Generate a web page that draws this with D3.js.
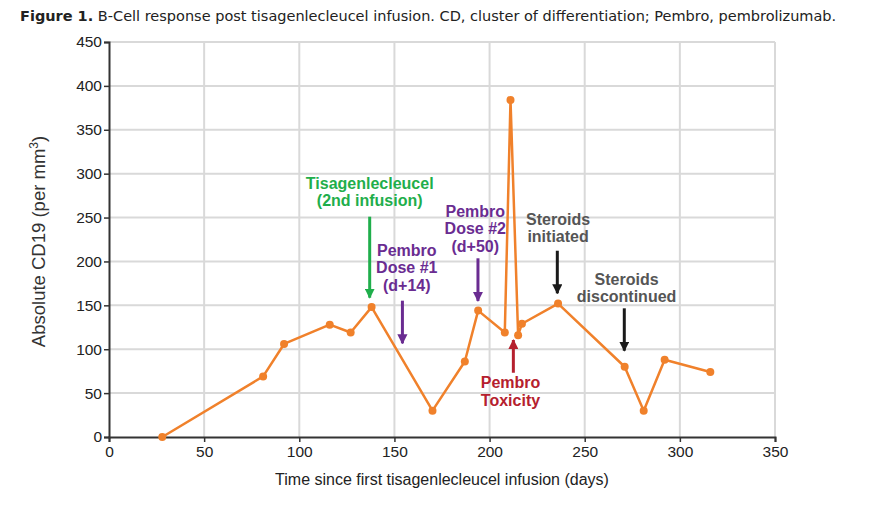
<!DOCTYPE html>
<html>
<head>
<meta charset="utf-8">
<script src="https://cdn.jsdelivr.net/npm/d3@7"></script>
<style>
  body { margin: 0; background: #fff; }
  svg { display: block; }
</style>
</head>
<body>
<div id="chart"></div>
<script>
// data
var days  = [28, 81, 92, 116, 127, 138, 170, 187, 194, 208, 211, 215, 217, 236, 271, 281, 292, 316];
var cd19  = [0, 69, 106, 128, 119, 148, 30, 86, 144, 119, 384, 116, 129, 152, 80, 30, 88, 74];
var xTicks = [0, 50, 100, 150, 200, 250, 300, 350];
var yTicks = [0, 50, 100, 150, 200, 250, 300, 350, 400, 450];

// annotations: label lines, where the text sits, where the arrow runs (days / cells)
var noteLabels = [["Tisagenlecleucel", "(2nd infusion)"], ["Pembro", "Dose #1", "(d+14)"], ["Pembro", "Dose #2", "(d+50)"],
                  ["Steroids", "initiated"], ["Steroids", "discontinued"], ["Pembro", "Toxicity"]];
var noteColors = ["#1fae4b", "#6a2c91", "#6a2c91", "#555555", "#555555", "#b5202e"];
var noteTextX  = [137, 156.5, 192.5, 236, 272, 211];
var noteTextY  = [283, 206.5, 251, 242, 173.5, 55.5];
var arrowX     = [137, 154.2, 193.9, 235.6, 270.8, 212.5];
var arrowFrom  = [251, 155.3, 203.6, 212.2, 146.6, 73.2];
var arrowTo    = [158.7, 106.7, 155, 163.7, 98.3, 110.5];
var arrowColors = ["#1fae4b", "#6a2c91", "#6a2c91", "#1a1a1a", "#1a1a1a", "#b5202e"];

var W = 880, H = 510;
var margin = {top: 42, right: 105, bottom: 73, left: 109};
var width = W - margin.left - margin.right,
    height = H - margin.top - margin.bottom;

var root = d3.select("#chart").append("svg")
    .attr("width", W)
    .attr("height", H);

// caption
var cap = root.append("text")
    .attr("x", 20)
    .attr("y", 21)
    .style("font-family", "DejaVu Sans")
    .style("font-size", "14.5px")
    .attr("fill", "#222");
cap.append("tspan").attr("font-weight", "bold").text("Figure 1.");
cap.append("tspan").text(" B-Cell response post tisagenlecleucel infusion. CD, cluster of differentiation; Pembro, pembrolizumab.");

var svg = root.append("g")
    .attr("transform", "translate(" + margin.left + "," + margin.top + ")");

var x = d3.scaleLinear().domain([0, 350]).range([0, width]);
var y = d3.scaleLinear().domain([0, 450]).range([height, 0]);

// grid
svg.append("g").selectAll("line.h")
  .data(yTicks.slice(1))
  .enter().append("line")
    .attr("x1", 0).attr("x2", width)
    .attr("y1", function(d) { return y(d); })
    .attr("y2", function(d) { return y(d); })
    .attr("stroke", "#d9d9d9").attr("stroke-width", 2);
svg.append("g").selectAll("line.v")
  .data(xTicks.slice(1))
  .enter().append("line")
    .attr("x1", function(d) { return x(d); })
    .attr("x2", function(d) { return x(d); })
    .attr("y1", 0).attr("y2", height)
    .attr("stroke", "#d9d9d9").attr("stroke-width", 2);

// axes
var xAxis = svg.append("g")
    .attr("transform", "translate(0," + height + ")")
    .call(d3.axisBottom(x).tickValues(xTicks).tickSizeOuter(0).tickSize(5).tickPadding(4));
var yAxis = svg.append("g")
    .call(d3.axisLeft(y).tickValues(yTicks).tickSizeOuter(0).tickSize(5).tickPadding(2));
[xAxis, yAxis].forEach(function(a) {
  a.select(".domain").attr("stroke", "#333").attr("stroke-width", 2);
  a.selectAll(".tick line").attr("stroke", "#333").attr("stroke-width", 1.5);
  a.selectAll(".tick text")
    .style("font-family", "Liberation Sans, Arial, sans-serif")
    .style("font-size", "15.5px")
    .attr("fill", "#222");
});

// axis labels
svg.append("text")
    .attr("text-anchor", "middle")
    .attr("x", width / 2)
    .attr("y", height + 48)
    .style("font-family", "Liberation Sans, Arial, sans-serif")
    .style("font-size", "16px")
    .attr("fill", "#222")
    .text("Time since first tisagenlecleucel infusion (days)");

var yl = svg.append("text")
    .attr("text-anchor", "middle")
    .attr("transform", "translate(-64," + (height / 2 + 2) + ") rotate(-90)")
    .style("font-family", "Liberation Sans, Arial, sans-serif")
    .style("font-size", "18.5px")
    .attr("fill", "#333");
yl.append("tspan").text("Absolute CD19 (per mm");
yl.append("tspan").attr("baseline-shift", "super").style("font-size", "12px").text("3");
yl.append("tspan").text(")");

// arrowheads
var defs = root.append("defs");
arrowColors.forEach(function(c, i) {
  defs.append("marker")
      .attr("id", "ah" + i)
      .attr("viewBox", "0 0 10 10")
      .attr("refX", 9).attr("refY", 5)
      .attr("markerWidth", 3.4).attr("markerHeight", 3.4)
      .attr("markerUnits", "strokeWidth")
      .attr("orient", "auto")
    .append("path")
      .attr("d", "M0,0 L10,5 L0,10 z")
      .attr("fill", c);
});

// series
var pts = days.map(function(d, i) { return [d, cd19[i]]; });
svg.append("path")
    .datum(pts)
    .attr("d", d3.line()
      .x(function(d) { return x(d[0]); })
      .y(function(d) { return y(d[1]); }))
    .attr("fill", "none")
    .attr("stroke", "#f0812b")
    .attr("stroke-width", 2.5)
    .attr("stroke-linejoin", "round");
svg.append("g").selectAll("circle")
  .data(pts)
  .enter().append("circle")
    .attr("cx", function(d) { return x(d[0]); })
    .attr("cy", function(d) { return y(d[1]); })
    .attr("r", 4)
    .attr("fill", "#f0812b");

// arrows
svg.append("g").selectAll("line")
  .data(arrowX)
  .enter().append("line")
    .attr("x1", function(d) { return x(d); })
    .attr("x2", function(d) { return x(d); })
    .attr("y1", function(d, i) { return y(arrowFrom[i]); })
    .attr("y2", function(d, i) { return y(arrowTo[i]); })
    .attr("stroke", function(d, i) { return arrowColors[i]; })
    .attr("stroke-width", 3)
    .attr("marker-end", function(d, i) { return "url(#ah" + i + ")"; });

// annotation text
noteLabels.forEach(function(lines, i) {
  var t = svg.append("text")
      .attr("text-anchor", "middle")
      .attr("x", x(noteTextX[i]))
      .attr("y", y(noteTextY[i]))
      .style("font-family", "Liberation Sans, Arial, sans-serif")
      .style("font-size", "16px")
      .style("font-weight", "bold")
      .attr("fill", noteColors[i]);
  lines.forEach(function(s, j) {
    t.append("tspan")
      .attr("x", x(noteTextX[i]))
      .attr("dy", j == 0 ? 0 : 17.5)
      .text(s);
  });
});
</script>
</body>
</html>
